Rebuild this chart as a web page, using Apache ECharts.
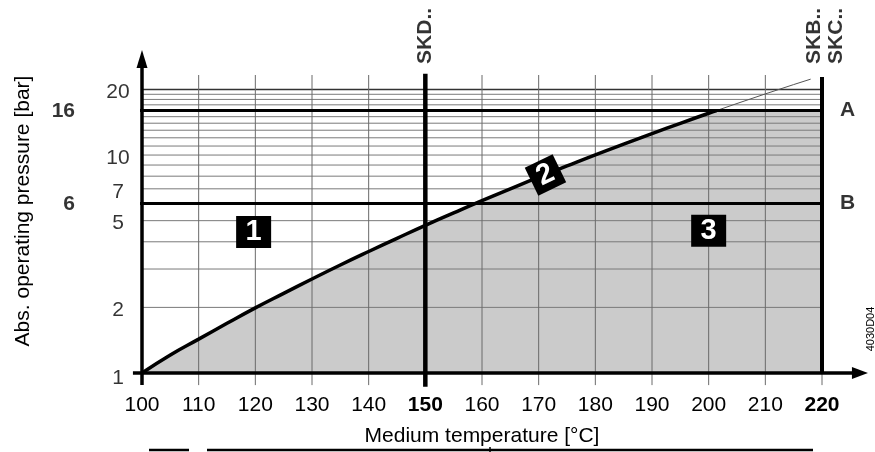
<!DOCTYPE html>
<html><head><meta charset="utf-8">
<script src="https://cdn.jsdelivr.net/npm/echarts@6/dist/echarts.min.js"></script>
<style>html,body{margin:0;padding:0;background:#fff}#c{width:875px;height:452px}</style>
</head><body><div id="c"></div>
<script>
// ---- data ----
const curveTemps    = [100, 105, 110, 115, 120, 125, 130, 135, 140, 145, 150, 155, 160, 165, 170, 175, 180, 185, 190, 195, 200, 201.4];
const curvePressure = [1.0, 1.21, 1.43, 1.69, 1.99, 2.32, 2.70, 3.13, 3.61, 4.15, 4.76, 5.43, 6.18, 7.00, 7.92, 8.92, 10.03, 11.23, 12.55, 13.99, 15.55, 16.0];
const contTemps     = [201.4, 205, 210, 215, 218];
const contPressure  = [16.0, 17.24, 19.08, 21.06, 22.3];
const xTicks        = [100, 110, 120, 130, 140, 150, 160, 170, 180, 190, 200, 210, 220];
const xBoldTicks    = [150, 220];
const yTickLabels   = [1, 2, 5, 7, 10, 20];
const minorPressures = [2, 3, 4, 5, 7, 8, 9, 10, 11, 12, 13, 14, 15, 17, 18, 19];
const topPressure   = 20;
const limitPressures = [16, 6];        // lines A, B
const limitNames     = ['A', 'B'];
const limitTemps     = [150, 220];     // SKD.., SKB../SKC..
const zoneNames  = ['1', '2', '3'];
const zoneTemps  = [119.7, 171.2, 200.0];
const zonePress  = [4.43, 8.1, 4.5];

// ---- extents (data units) ----
const X_MIN = 100, X_MAX = 220, Y_MIN = 1, Y_MAX = 23.3;
const X_LEFT_EXT = 98.4, X_GRID_END = 221.8, X_LIMIT_LEFT = [89.9, 90.5];
const Y_BOTTOM_EXT = 0.88;
const FONT = 'Liberation Sans, Arial, sans-serif';

function seg(data, color, width) {
  return { type: 'line', data: data, symbol: 'none', clip: false, silent: true,
           lineStyle: { color: color, width: width, cap: 'butt' }, animation: false };
}

const series = [];
// gray fill
const fillData = curveTemps.map((t, i) => [t, curvePressure[i]]).concat([[X_MAX, 16]]);
series.push({ type: 'line', data: fillData, symbol: 'none', silent: true,
  lineStyle: { width: 0 }, areaStyle: { color: '#cbcbcb', origin: 'start', opacity: 1 } });
// minor horizontal grid
minorPressures.forEach(p => series.push(seg([[X_MIN, p], [X_GRID_END, p]], '#7a7a7a', 1)));
series.push(seg([[X_MIN, topPressure], [X_GRID_END, topPressure]], '#333', 1.5));
// vertical grid
xTicks.forEach(t => {
  if (t === X_MIN || limitTemps.includes(t)) return;
  series.push(seg([[t, Y_BOTTOM_EXT], [t, Y_MAX]], '#6a6a6a', 1));
});
series.push(seg([[X_MAX, Y_BOTTOM_EXT], [X_MAX, Y_MIN]], '#6a6a6a', 1));
// thin continuation of curve
series.push(seg(contTemps.map((t, i) => [t, contPressure[i]]), '#555', 1));
// limit lines
limitPressures.forEach((p, i) => series.push(seg([[X_LIMIT_LEFT[i], p], [X_GRID_END, p]], '#000', 3)));
series.push(seg([[limitTemps[0], 0.865], [limitTemps[0], 23.6]], '#000', 4.5));
series.push(seg([[limitTemps[1], Y_MIN], [limitTemps[1], 22.8]], '#000', 4));
// curve
series.push({ type: 'line', data: curveTemps.map((t, i) => [t, curvePressure[i]]), symbol: 'none',
  smooth: true, clip: false, silent: true, lineStyle: { color: '#000', width: 3.5 } });
// axes (custom series so they can run past the plot area)
const axisSegs = [[X_MIN, Y_BOTTOM_EXT, X_MIN, 25.8], [X_LEFT_EXT, Y_MIN, 225.6, Y_MIN]];
series.push({ type: 'custom', clip: false, silent: true, z: 4,
  data: axisSegs,
  renderItem: (params, api) => {
    const a = api.coord([api.value(0), api.value(1)]);
    const b = api.coord([api.value(2), api.value(3)]);
    return { type: 'line', shape: { x1: a[0], y1: a[1], x2: b[0], y2: b[1] },
             style: { stroke: '#000', lineWidth: 3.5 } };
  },
  encode: { x: [0, 2], y: [1, 3] }
});
series.push({ type: 'scatter', clip: false, silent: true, z: 5,
  itemStyle: { color: '#000', opacity: 1 },
  data: [
    { value: [X_MIN, 27.6], symbol: 'triangle', symbolSize: [11, 18] },
    { value: [226.7, Y_MIN], symbol: 'triangle', symbolSize: [12, 16], symbolRotate: -90 }
  ] });
// zone boxes
series.push({ type: 'scatter', clip: false, silent: true, z: 6,
  itemStyle: { color: '#000', opacity: 1 },
  data: zoneNames.map((n, i) => ({
    name: n, value: [zoneTemps[i], zonePress[i]], symbol: 'rect',
    symbolSize: i === 1 ? [31, 31] : [35, 32], symbolRotate: i === 1 ? 26 : 0,
    label: { rotate: i === 1 ? 26 : 0 }
  })),
  label: { show: true, position: 'inside', formatter: p => p.name, color: '#fff',
    fontSize: 29, fontWeight: 'bold', fontFamily: FONT }
});
// text labels anchored in data space
const txt = (extra) => Object.assign({ show: true, position: 'inside', color: '#000', fontSize: 21, fontFamily: FONT }, extra);
series.push({ type: 'scatter', clip: false, silent: true, symbolSize: 0, z: 7,
  data: yTickLabels.map(v => ({ value: [X_MIN, v], label: txt({ formatter: String(v), offset: [-24, v === 1 ? 5 : 3] }) }))
    .concat(limitPressures.map(v => ({ value: [X_MIN, v], label: txt({ formatter: String(v), fontWeight: 'bold', align: 'right', offset: [-67, 1] }) })))
    .concat(limitPressures.map((v, i) => ({ value: [X_MAX, v], label: txt({ formatter: limitNames[i], fontWeight: 'bold', align: 'left', offset: [18, 0] }) })))
    .concat([
      { value: [limitTemps[0], 35.2], label: txt({ formatter: 'SKD..', fontWeight: 'bold', rotate: 90 }) },
      { value: [limitTemps[1], 35.2], label: txt({ formatter: 'SKB..', fontWeight: 'bold', rotate: 90, offset: [0, -8] }) },
      { value: [limitTemps[1], 35.2], label: txt({ formatter: 'SKC..', fontWeight: 'bold', rotate: 90, offset: [0, 14.5] }) }
    ])
});

const chart = echarts.init(document.getElementById('c'), null, { renderer: 'canvas' });
chart.setOption({
  animation: false,
  backgroundColor: '#fff',
  grid: { left: 142, right: 53, top: 75, bottom: 79, containLabel: false },
  xAxis: {
    type: 'value', min: X_MIN, max: X_MAX, interval: 10,
    axisLine: { show: false }, axisTick: { show: false }, splitLine: { show: false },
    axisLabel: { margin: 22, color: '#000', fontSize: 21, fontFamily: FONT,
      formatter: v => xBoldTicks.includes(v) ? '{b|' + v + '}' : String(v),
      rich: { b: { fontWeight: 'bold', fontSize: 21, fontFamily: FONT, color: '#000' } } },
    name: 'Medium temperature [°C]', nameLocation: 'middle', nameGap: 53,
    nameTextStyle: { color: '#000', fontSize: 21, fontFamily: FONT }
  },
  yAxis: {
    type: 'log', logBase: 10, min: Y_MIN, max: Y_MAX,
    axisLine: { show: false }, axisTick: { show: false }, splitLine: { show: false },
    axisLabel: { show: false }, minorTick: { show: false }, minorSplitLine: { show: false }
  },
  graphic: [
    { type: 'text', x: 23, y: 211, rotation: Math.PI / 2,
      style: { text: 'Abs. operating pressure [bar]', font: '21px ' + FONT, align: 'center', verticalAlign: 'middle', fill: '#000' } },
    { type: 'text', x: 871, y: 329, rotation: Math.PI / 2,
      style: { text: '4030D04', font: '11px ' + FONT, align: 'center', verticalAlign: 'middle', fill: '#000' } },
    { type: 'line', shape: { x1: 149, y1: 450, x2: 189, y2: 450 }, style: { stroke: '#000', lineWidth: 2.5 } },
    { type: 'line', shape: { x1: 207, y1: 450, x2: 813, y2: 450 }, style: { stroke: '#000', lineWidth: 2.5 } },
    { type: 'line', shape: { x1: 490, y1: 447, x2: 490, y2: 452 }, style: { stroke: '#000', lineWidth: 1.5 } }
  ],
  series: series
});
</script>
</body></html>
